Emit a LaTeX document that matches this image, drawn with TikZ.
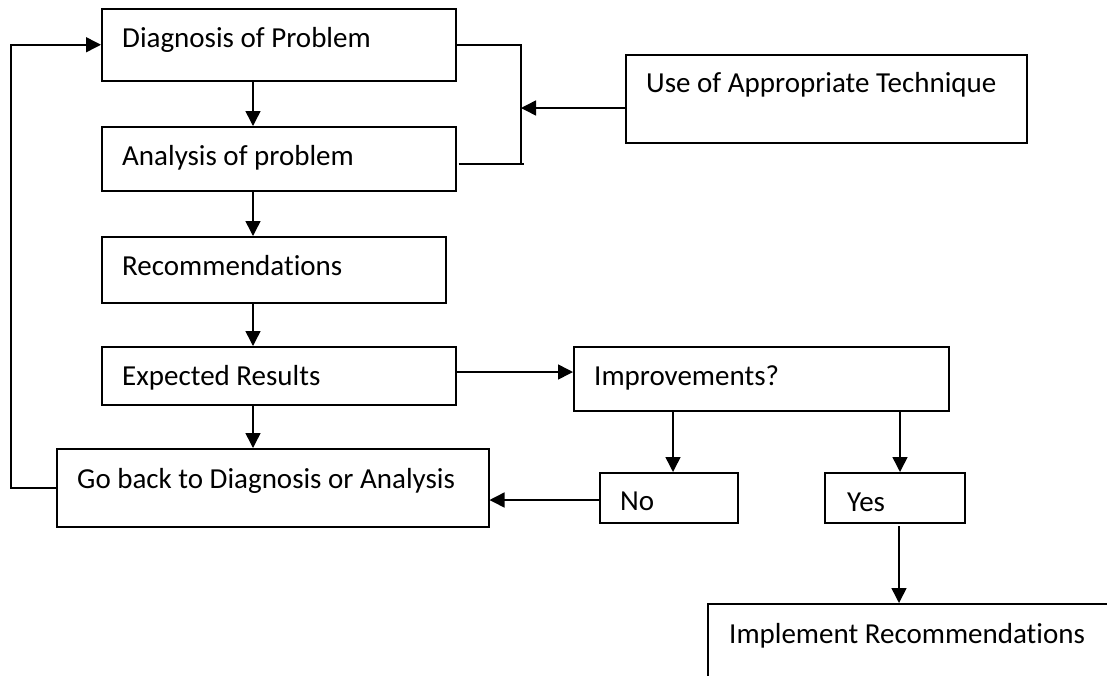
\documentclass[tikz,border=0pt]{standalone}
\usepackage{fontspec}
\setmainfont[Ligatures=NoCommon]{Carlito}
\usetikzlibrary{arrows.meta}
\begin{document}
\begin{tikzpicture}[x=1pt,y=-1pt,
  box/.style={draw, line width=1.5pt, rectangle, inner sep=0pt, anchor=north west},
  txt/.style={inner sep=0pt, anchor=base west, font=\fontsize{29}{34}\selectfont},
  conn/.style={line width=1.5pt},
  arr/.style={conn, -{Triangle[length=15pt,width=15pt]}}]
\useasboundingbox (0,0) rectangle (1107,675);
\clip (0,0) rectangle (1107,675);
\fill[white] (0,0) rectangle (1107,675);
% boxes
\node[box, minimum width=354pt, minimum height=72pt] (diag) at (101,8) {};
\node[box, minimum width=354pt, minimum height=64pt] (anal) at (101,126) {};
\node[box, minimum width=344pt, minimum height=66pt] (rec) at (101,236) {};
\node[box, minimum width=354pt, minimum height=58pt] (exp) at (101,346) {};
\node[box, minimum width=432pt, minimum height=78pt] (goback) at (56,448) {};
\node[box, minimum width=401pt, minimum height=88pt] (use) at (625,54) {};
\node[box, minimum width=375pt, minimum height=64pt] (impr) at (573,346) {};
\node[box, minimum width=138pt, minimum height=50pt] (no) at (599,472) {};
\node[box, minimum width=140pt, minimum height=50pt] (yes) at (824,472) {};
\node[box, minimum width=450pt, minimum height=120pt] (impl) at (707,603) {};
% texts
\node[txt] (diagt) at (122,47) {Diagnosis of Problem};
\node[txt] (analt) at (122,165) {Analysis of problem};
\node[txt] (rect) at (122,275) {Recommendations};
\node[txt] (expt) at (122,385) {Expected Results};
\node[txt] (gobackt) at (77,488) {Go back to Diagnosis or Analysis};
\node[txt] (uset) at (646,92) {Use of Appropriate Technique};
\node[txt] (imprt) at (594,385) {Improvements?};
\node[txt] (not) at (620,510) {No};
\node[txt] (yest) at (847,511) {Yes};
\node[txt] (implt) at (729,643) {Implement Recommendations};
% helper coordinates
\coordinate (col) at (253,0);
\coordinate (lx) at (11,0);
\coordinate (bb) at (521,164);
\coordinate (be) at (524,164);
\coordinate (bm) at (521,108);
\coordinate (ey) at (0,372);
\coordinate (nx) at (673,0);
\coordinate (yx) at (900,0);
\coordinate (ny) at (0,500);
\coordinate (ys) at (899,526);
% connectors
\draw[arr] (diag.south -| col) -- (anal.north -| col);
\draw[arr] (anal.south -| col) -- (rec.north -| col);
\draw[arr] (rec.south -| col) -- (exp.north -| col);
\draw[arr] (exp.south -| col) -- (goback.north -| col);
\draw[arr] (goback.west) -- (goback.west -| lx) -- (diag.west -| lx) -- (diag.west);
\draw[conn] (diag.east) -- (diag.east -| bb) -- (bb);
\draw[conn] ([xshift=2pt]anal.east |- be) -- (be);
\draw[arr] (use.west |- bm) -- (bm);
\draw[arr] (exp.east |- ey) -- (impr.west |- ey);
\draw[arr] (impr.south -| nx) -- (no.north -| nx);
\draw[arr] (impr.south -| yx) -- (yes.north -| yx);
\draw[arr] (no.west |- ny) -- (goback.east |- ny);
\draw[arr] (ys) -- (impl.north -| ys);
\end{tikzpicture}
\end{document}
